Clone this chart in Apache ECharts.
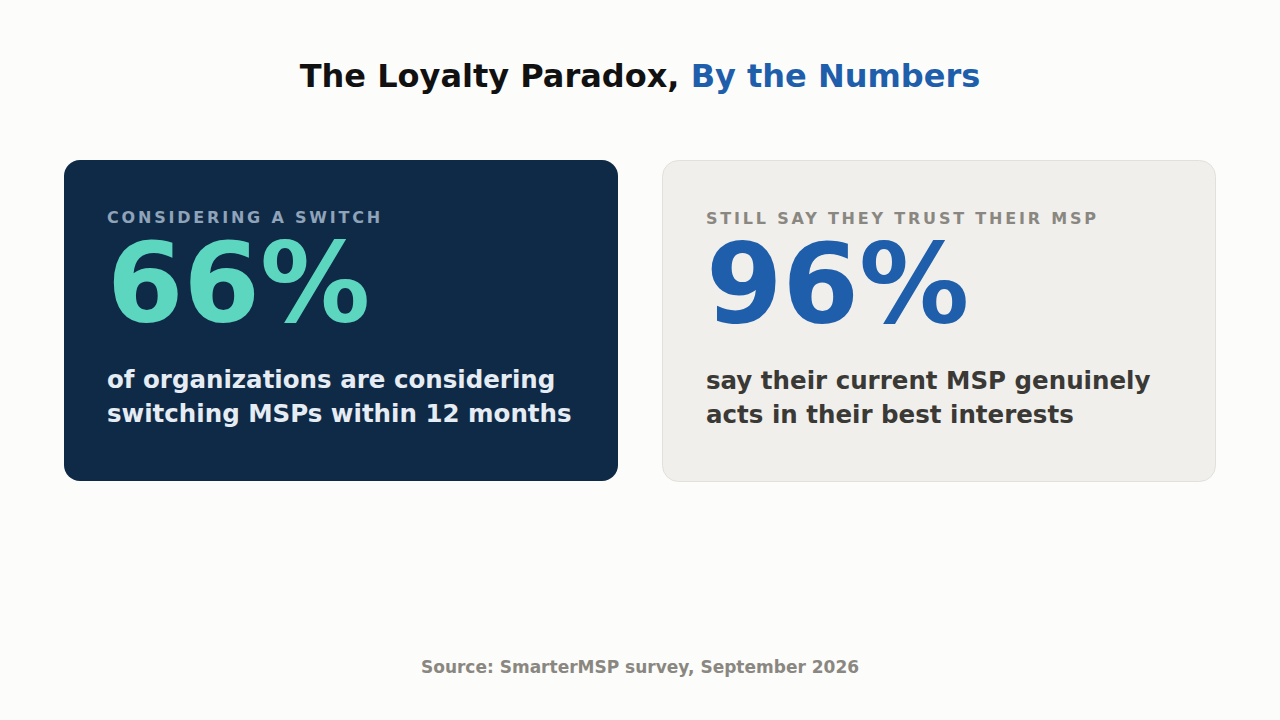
<!DOCTYPE html>
<html>
<head>
<meta charset="utf-8">
<script src="https://cdn.jsdelivr.net/npm/echarts@6/dist/echarts.min.js"></script>
<style>
  html, body { margin: 0; padding: 0; background: #fcfcfa; }
  #chart { width: 1280px; height: 720px; }
</style>
</head>
<body>
<div id="chart"></div>
<script>
// ---- data ----
const titleMain = 'The Loyalty Paradox, ';
const titleAccent = 'By the Numbers';
const cardLabels = ['CONSIDERING A SWITCH', 'STILL SAY THEY TRUST THEIR MSP'];
const cardValues = [66, 96];
const cardDescriptions = [
  ['of organizations are considering', 'switching MSPs within 12 months'],
  ['say their current MSP genuinely', 'acts in their best interests']
];
const sourceNote = 'Source: SmarterMSP survey, September 2026';

// ---- styles ----
const FONT = '"DejaVu Sans", sans-serif';
const cardStyles = [
  { bg: '#0f2a47', stroke: null, label: '#8fa3b9', value: '#5dd6c0', desc: '#e6ecf3' },
  { bg: '#f0efec', stroke: '#e2e0db', label: '#8a8781', value: '#1e5eab', desc: '#3a3936' }
];
const cardBoxes = [
  { x: 64, y: 160, w: 554, h: 321 },
  { x: 662.5, y: 160.5, w: 553, h: 321 }
];

const chart = echarts.init(document.getElementById('chart'), null, { renderer: 'svg' });

const elements = [];
elements.push({
  type: 'text', left: 'center', top: 60,
  style: {
    text: '{a|' + titleMain + '}{b|' + titleAccent + '}',
    rich: {
      a: { fill: '#111111', font: 'bold 32px ' + FONT },
      b: { fill: '#1e5eab', font: 'bold 32px ' + FONT }
    },
    font: 'bold 32px ' + FONT
  }
});

cardLabels.forEach(function (lab, i) {
  const b = cardBoxes[i], s = cardStyles[i];
  const tx = (i === 0 ? 107 : 706);
  elements.push({
    type: 'rect',
    shape: { x: b.x, y: b.y, width: b.w, height: b.h, r: 16 },
    style: { fill: s.bg, stroke: s.stroke || 'none', lineWidth: s.stroke ? 1 : 0 }
  });
  elements.push({
    type: 'text', x: tx, y: 217.5 + i,
    style: { text: lab, fill: s.label, font: 'bold 16px ' + FONT, lineHeight: 16, textVerticalAlign: 'middle', textAlign: 'left' }
  });
  elements.push({
    type: 'text', x: tx, y: 283 + i,
    style: { text: cardValues[i] + '%', fill: s.value, font: 'bold 110px ' + FONT, lineHeight: 88, textVerticalAlign: 'middle', textAlign: 'left' }
  });
  elements.push({
    type: 'text', x: tx, y: 396 + i,
    style: { text: cardDescriptions[i].join('\n'), fill: s.desc, font: 'bold 24.5px ' + FONT, lineHeight: 34, textVerticalAlign: 'middle', textAlign: 'left' }
  });
});

elements.push({
  type: 'text', x: 640, y: 667,
  style: { text: sourceNote, fill: '#8a8781', font: 'bold 17px ' + FONT, textAlign: 'center', textVerticalAlign: 'middle' }
});

chart.setOption({
  backgroundColor: '#fcfcfa',
  animation: false,
  graphic: { elements: elements }
});

function applySpacing() {
  const texts = document.querySelectorAll('#chart text');
  texts.forEach(function (t) {
    if (cardLabels.indexOf(t.textContent) >= 0) {
      t.setAttribute('letter-spacing', '2.8px');
      t.style.letterSpacing = '2.8px';
    }
  });
}
applySpacing();
chart.on('finished', applySpacing);
setTimeout(applySpacing, 30);
setTimeout(applySpacing, 200);
</script>
</body>
</html>
